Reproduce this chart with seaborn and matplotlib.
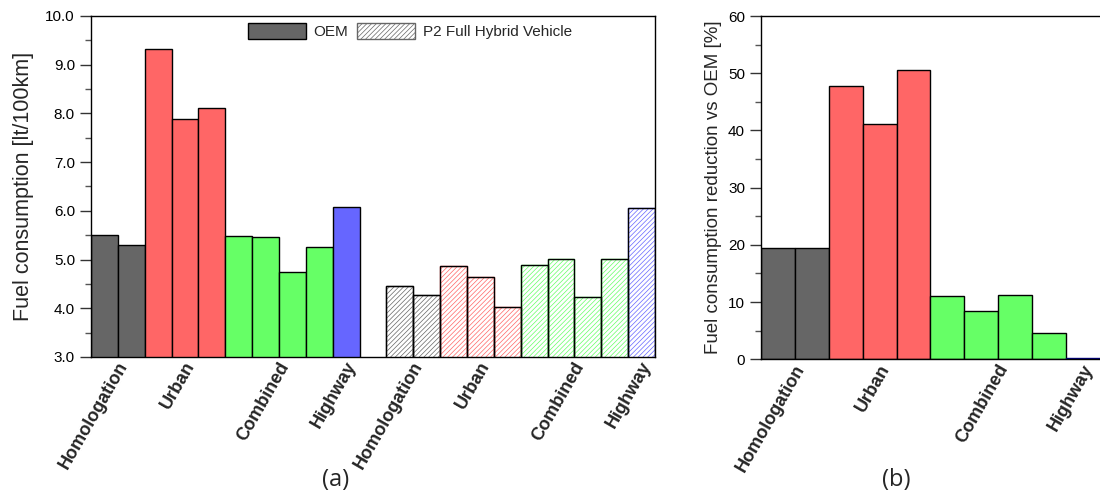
import numpy as np
import pandas as pd
import matplotlib
matplotlib.use("Agg")
import matplotlib.pyplot as plt
from matplotlib.patches import Patch
from matplotlib.ticker import MultipleLocator, FormatStrFormatter
from matplotlib.transforms import ScaledTranslation
import seaborn as sns

# ---------------- data ----------------
cycles = ["Homologation", "Urban", "Combined", "Highway"]
bar_cycle = ["Homologation", "Homologation", "Urban", "Urban", "Urban",
             "Combined", "Combined", "Combined", "Combined", "Highway"]
oem_fc = [5.51, 5.30, 9.33, 7.88, 8.11, 5.48, 5.46, 4.75, 5.26, 6.07]
hybrid_fc = [4.45, 4.27, 4.86, 4.65, 4.02, 4.88, 5.01, 4.23, 5.02, 6.05]
reduction = [19.4, 19.5, 47.8, 41.1, 50.5, 11.0, 8.4, 11.2, 4.6, 0.3]
legend_labels = ["OEM", "P2 Full Hybrid Vehicle"]

cycle_colors = {"Homologation": "#666666", "Urban": "#ff6666",
                "Combined": "#66ff66", "Highway": "#6666ff"}

sns.set_theme(style="ticks")
plt.rcParams['font.family'] = ['Liberation Sans', 'DejaVu Sans']
plt.rcParams['hatch.linewidth'] = 0.5

fig = plt.figure(figsize=(11, 4.93), dpi=100)
ax1 = fig.add_axes([0.0827, 0.2759, 0.5127, 0.6917])
ax2 = fig.add_axes([0.6918, 0.2712, 0.3082, 0.6963])

# ---------------- panel (a) ----------------
n = len(bar_cycle)
slots = [f"s{i}" for i in range(2 * n + 1)]
vals_a = oem_fc + [np.nan] + hybrid_fc
cyc_a = bar_cycle + [bar_cycle[0]] + bar_cycle
df_a = pd.DataFrame({"slot": slots, "value": vals_a, "cycle": cyc_a})
pal_a = {s: cycle_colors[c] for s, c in zip(slots, cyc_a)}
sns.barplot(data=df_a, x="slot", y="value", hue="slot", order=slots,
            palette=pal_a, width=1.0, legend=False, ax=ax1,
            edgecolor="black", linewidth=1.0, saturation=1)

# hatch hybrid bars
for p in list(ax1.patches):
    cx = p.get_x() + p.get_width() / 2
    idx = int(round(cx))
    if idx > n and p.get_height() > 0:
        col = pal_a[slots[idx]]
        p.set_facecolor("white")
        p.set_hatch("///////")
        p.set_edgecolor(col)
        ax1.add_patch(plt.Rectangle((p.get_x(), 0), p.get_width(), p.get_height(),
                                    fill=False, edgecolor="black", linewidth=1.0))
ax1.set_xlim(-0.5, 2 * n + 0.5)
ax1.set_ylim(3.0, 10.0)
ax1.yaxis.set_major_locator(MultipleLocator(1.0))
ax1.yaxis.set_minor_locator(MultipleLocator(0.5))
ax1.yaxis.set_major_formatter(FormatStrFormatter("%.1f"))

group_pos = []
for c in cycles:
    ids = [i for i, b in enumerate(bar_cycle) if b == c]
    group_pos.append((ids[0] + ids[-1]) / 2)
ax1.set_xticks(group_pos + [g + n + 1 for g in group_pos])
ax1.set_xticklabels(cycles + cycles, rotation=60, ha="right",
                    rotation_mode="anchor", va="center",
                    fontsize=13, fontweight="bold")
ax1.set_xlabel("")
ax1.set_ylabel("Fuel consumption [lt/100km]", fontsize=15.5, labelpad=8)

handles = [Patch(facecolor="#666666", edgecolor="black", linewidth=1.0),
           Patch(facecolor="white", edgecolor="#666666", hatch="///////", linewidth=1.0)]
ax1.legend(handles, legend_labels, ncol=2, frameon=False, loc="upper left",
           bbox_to_anchor=(0.278, 0.978), borderaxespad=0, borderpad=0,
           fontsize=11, handlelength=3.8, handleheight=1.2,
           columnspacing=0.6, handletextpad=0.5)

# ---------------- panel (b) ----------------
slots_b = [f"b{i}" for i in range(n)]
df_b = pd.DataFrame({"slot": slots_b, "value": reduction, "cycle": bar_cycle})
pal_b = {s: cycle_colors[c] for s, c in zip(slots_b, bar_cycle)}
sns.barplot(data=df_b, x="slot", y="value", hue="slot", order=slots_b,
            palette=pal_b, width=1.0, legend=False, ax=ax2,
            edgecolor="black", linewidth=1.0, saturation=1)
ax2.patches[-1].set_edgecolor("#000080")
ax2.set_xlim(-0.5, n - 0.5)
ax2.set_ylim(0, 60)
ax2.yaxis.set_major_locator(MultipleLocator(10))
ax2.yaxis.set_minor_locator(MultipleLocator(5))
ax2.set_xticks(group_pos)
ax2.set_xticklabels(cycles, rotation=60, ha="right", rotation_mode="anchor",
                    va="center", fontsize=13, fontweight="bold")
ax2.set_xlabel("")
ax2.set_ylabel("Fuel consumption reduction vs OEM [%]", fontsize=13.5, labelpad=4)
ax2.spines["right"].set_visible(False)

shift = ScaledTranslation(6 / 100, -2 / 100, fig.dpi_scale_trans)
for ax in (ax1, ax2):
    ax.tick_params(axis="y", which="major", direction="out", length=8, width=1,
                   labelsize=11, colors="#333333", labelcolor="black")
    ax.tick_params(axis="y", which="minor", direction="out", length=4, width=1,
                   colors="#555555")
    ax.tick_params(axis="x", length=0, pad=3)
    for s in ax.spines.values():
        s.set_linewidth(1.0)
        s.set_color("black")
    for lbl in ax.get_xticklabels():
        lbl.set_transform(lbl.get_transform() + shift)

fig.text(0.305, 0.015, "(a)", fontsize=17, family=["Open Sans", "DejaVu Sans"],
         ha="center")
fig.text(0.815, 0.015, "(b)", fontsize=17, family=["Open Sans", "DejaVu Sans"],
         ha="center")

fig.savefig("out.png", dpi=100)
